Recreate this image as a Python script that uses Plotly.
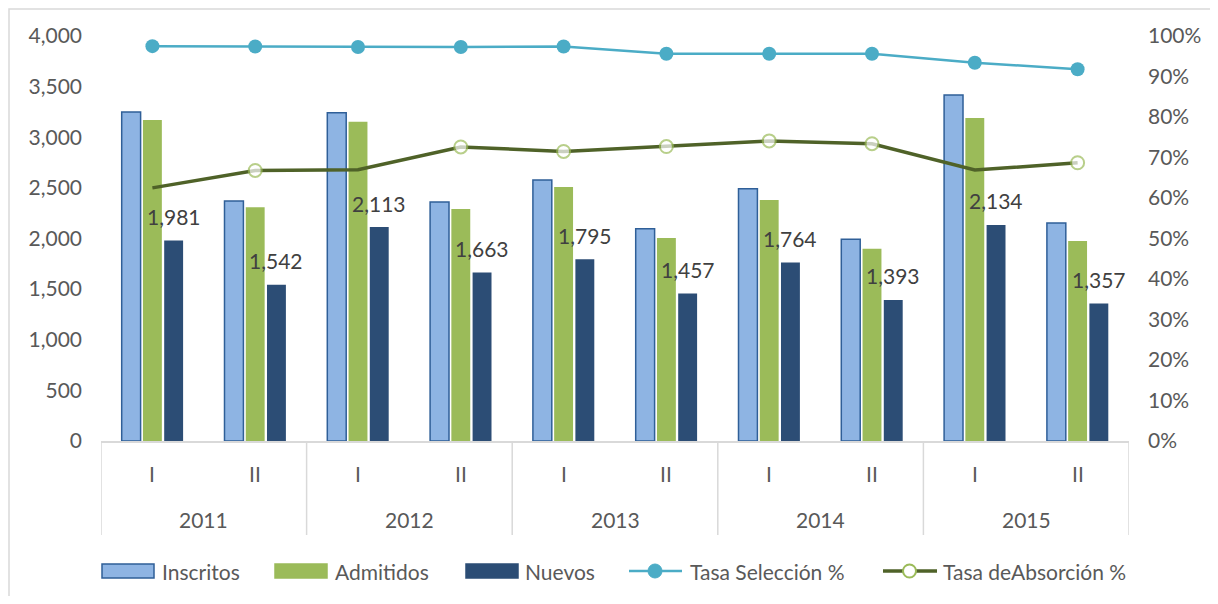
import plotly.graph_objects as go

# Data
years = ["2011", "2011", "2012", "2012", "2013", "2013", "2014", "2014", "2015", "2015"]
semesters = ["I", "II", "I", "II", "I", "II", "I", "II", "I", "II"]
inscritos = [3250, 2370, 3243, 2360, 2578, 2097, 2492, 1992, 3417, 2153]
admitidos = [3170, 2308, 3154, 2291, 2509, 2005, 2380, 1899, 3190, 1975]
nuevos = [1981, 1542, 2113, 1663, 1795, 1457, 1764, 1393, 2134, 1357]
tasa_seleccion = [0.975, 0.974, 0.973, 0.973, 0.974, 0.956, 0.956, 0.956, 0.934, 0.918]
tasa_absorcion = [0.625, 0.668, 0.670, 0.726, 0.715, 0.727, 0.741, 0.734, 0.669, 0.687]
# the Excel chart shows no marker on these absorción points
absorcion_marker = [False, True, False, True, True, True, True, True, False, True]

# Layout geometry, in page pixels (the page body has an 8px margin)
OFF = 8
W, H = 1218 - 2 * OFF, 604 - 2 * OFF
BOX_L, BOX_R, BOX_T, BOX_B = 101, 1129, 36, 441
ML, MR = BOX_L - OFF, OFF + W - BOX_R
MT, MB = BOX_T - OFF, OFF + H - BOX_B
PW, PH = BOX_R - BOX_L, BOX_B - BOX_T


def px(x):
    return (x - BOX_L) / PW


def py(y):
    return (BOX_B - y) / PH


TEXT = "#595959"
GRID = "#d9d9d9"
FONT = "Lato"
FS = 21
BARGAP = 0.38
XRANGE = [-0.5, len(semesters) - 0.5]

x_cat = [years, semesters]

fig = go.Figure()

fig.add_trace(go.Bar(
    x=x_cat, y=inscritos, name="Inscritos",
    marker=dict(color="#8eb4e3", line=dict(color="#2f5f98", width=1.5)),
))
fig.add_trace(go.Bar(
    x=x_cat, y=admitidos, name="Admitidos",
    marker=dict(color="#9bbb59", line=dict(width=0)),
))
fig.add_trace(go.Bar(
    x=x_cat, y=nuevos, name="Nuevos",
    marker=dict(color="#2c4d75", line=dict(width=0)),
))

fig.add_trace(go.Scatter(
    x=x_cat, y=tasa_seleccion, name="Tasa Selección %", yaxis="y2",
    mode="lines+markers",
    line=dict(color="#4bacc6", width=2.5),
    marker=dict(color="#4bacc6", size=14),
))
fig.add_trace(go.Scatter(
    x=x_cat, y=tasa_absorcion, name="Tasa deAbsorción %", yaxis="y2",
    mode="lines+markers",
    line=dict(color="#4f6228", width=3.5),
    marker=dict(color="white", size=[13 if m else 0 for m in absorcion_marker],
                line=dict(color="#9bbb59", width=2)),
))

# data labels for "Nuevos", placed on a hidden numeric overlay axis
slot = (1 - BARGAP) / 3
for i, v in enumerate(nuevos):
    fig.add_annotation(
        x=i + slot, y=v, xref="x2", yref="y", yshift=24,
        text=f"{v:,}", showarrow=False,
        font=dict(family=FONT, size=FS, color="#404040"),
    )

# two-level category labels and dividers (Excel style)
for i, s in enumerate(semesters):
    fig.add_annotation(x=i, y=py(473), xref="x2", yref="paper", yanchor="middle",
                       text=s, showarrow=False, font=dict(family=FONT, size=FS, color=TEXT))
for i in range(0, len(years), 2):
    fig.add_annotation(x=i + 0.5, y=py(519), xref="x2", yref="paper", yanchor="middle",
                       text=years[i], showarrow=False, font=dict(family=FONT, size=FS, color=TEXT))
for i in range(0, len(years) + 1, 2):
    fig.add_shape(type="line", xref="x2", yref="paper",
                  x0=i - 0.5, x1=i - 0.5, y0=py(535), y1=0,
                  line=dict(color=GRID, width=1.5))

# custom legend like Excel
leg_y = 571
for x0, x1, fill, border in [(102, 154, "#8eb4e3", "#2f5f98"),
                             (275, 327, "#9bbb59", "#9bbb59"),
                             (466, 518, "#2c4d75", "#2c4d75")]:
    fig.add_shape(type="rect", xref="paper", yref="paper",
                  x0=px(x0), x1=px(x1), y0=py(leg_y + 7), y1=py(leg_y - 7),
                  fillcolor=fill, line=dict(color=border, width=1.5))

fig.add_shape(type="line", xref="paper", yref="paper",
              x0=px(629), x1=px(682), y0=py(leg_y), y1=py(leg_y),
              line=dict(color="#4bacc6", width=2.5))
fig.add_shape(type="circle", xref="paper", yref="paper",
              x0=px(648), x1=px(662), y0=py(leg_y + 7), y1=py(leg_y - 7),
              fillcolor="#4bacc6", line=dict(color="#4bacc6", width=1))
fig.add_shape(type="line", xref="paper", yref="paper",
              x0=px(883), x1=px(937), y0=py(leg_y), y1=py(leg_y),
              line=dict(color="#4f6228", width=3.5))
fig.add_shape(type="circle", xref="paper", yref="paper",
              x0=px(903), x1=px(916), y0=py(leg_y + 6.5), y1=py(leg_y - 6.5),
              fillcolor="white", line=dict(color="#9bbb59", width=2))

for xt, label in [(160, "Inscritos"), (333, "Admitidos"), (523, "Nuevos"),
                  (688, "Tasa Selección %"), (941, "Tasa deAbsorción %")]:
    fig.add_annotation(x=px(xt), y=py(leg_y), xref="paper", yref="paper",
                       xanchor="left", yanchor="middle", text=label,
                       showarrow=False, font=dict(family=FONT, size=FS, color=TEXT))

# outer chart border (as close to the page edge as the figure allows)
fig.add_shape(type="rect", xref="paper", yref="paper",
              x0=px(OFF + 1), x1=px(1240), y0=py(640), y1=py(OFF + 1),
              line=dict(color=GRID, width=1.5), layer="below")

fig.update_layout(
    width=W, height=H,
    margin=dict(l=ML, r=MR, t=MT, b=MB),
    paper_bgcolor="white", plot_bgcolor="white",
    font=dict(family=FONT, size=FS, color=TEXT),
    barmode="group", bargap=BARGAP, bargroupgap=0.11,
    showlegend=False,
    xaxis=dict(type="multicategory", range=XRANGE, showline=True, linecolor=GRID,
               linewidth=1.5, showdividers=False, showticklabels=False, ticks="",
               showgrid=False, automargin=False),
    xaxis2=dict(overlaying="x", range=XRANGE, visible=False, anchor="y",
                automargin=False),
    yaxis=dict(range=[0, 4000], dtick=500, tickformat=",", showgrid=False,
               zeroline=False, ticks="", ticklabelstandoff=18, automargin=False,
               tickfont=dict(size=FS, color=TEXT)),
    yaxis2=dict(overlaying="y", side="right", range=[0, 1], dtick=0.1,
                tickformat=".0%", showgrid=False, zeroline=False, ticks="",
                ticklabelstandoff=18, automargin=False,
                tickfont=dict(size=FS, color=TEXT)),
)

fig.write_html("out.html")
